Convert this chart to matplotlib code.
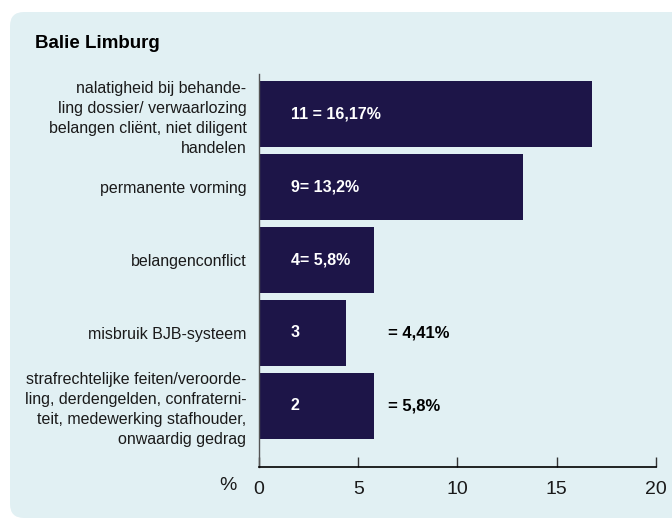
import matplotlib
matplotlib.use("Agg")
import matplotlib.pyplot as plt
from matplotlib.patches import FancyBboxPatch

categories = [
    "nalatigheid bij behande-\nling dossier/ verwaarlozing\nbelangen cliënt, niet diligent\nhandelen",
    "permanente vorming",
    "belangenconflict",
    "misbruik BJB-systeem",
    "strafrechtelijke feiten/veroorde-\nling, derdengelden, confraterni-\nteit, medewerking stafhouder,\nonwaardig gedrag",
]
percentages = [16.8, 13.3, 5.8, 4.4, 5.8]
inner_labels = ["11 = 16,17%", "9= 13,2%", "4= 5,8%", "3", "2"]
outer_labels = ["", "", "", "= 4,41%", "= 5,8%"]
xticks = [0, 5, 10, 15, 20]

bar_color = "#1d1548"
panel_color = "#e1f0f3"
text_color = "#1a1a1a"

plt.rcParams["font.family"] = ["Liberation Sans", "DejaVu Sans"]

fig = plt.figure(figsize=(6.72, 5.27), dpi=100)
fig.patch.set_facecolor("white")

# light panel behind the chart (pixel coordinates)
panel = FancyBboxPatch((10, 9), 720, 506, boxstyle="round,pad=0,rounding_size=14",
                       transform=None, facecolor=panel_color, edgecolor="none", zorder=-5)
fig.patches.append(panel)

fig.text(0.052, 0.917, "Balie Limburg", fontsize=13.5, fontweight="bold",
         color="black", ha="left", va="center")

ax = fig.add_axes([0.3854, 0.1139, 0.5908, 0.7457])
ax.set_facecolor("none")

ypos = list(range(len(categories)))
ax.barh(ypos, percentages, height=0.9, color=bar_color, zorder=2)

for y, lab in zip(ypos, inner_labels):
    ax.text(1.6, y, lab, color="white", fontsize=11.5, fontweight="bold",
            ha="left", va="center", zorder=3)
for y, lab in zip(ypos, outer_labels):
    if lab:
        ax.text(6.5, y, lab, color="black", fontsize=12, fontweight="bold",
                ha="left", va="center", zorder=3)

ax.set_xlim(0, 20)
ax.set_ylim(4.84, -0.55)
ax.set_xticks(xticks)
ax.set_xticklabels([str(t) for t in xticks], fontsize=14, color=text_color)
ax.tick_params(axis="x", direction="in", length=7, width=1, pad=10, color="#333333")
ax.set_yticks(ypos)
ax.set_yticklabels(categories, fontsize=11.5, color=text_color, linespacing=1.42,
                   ha="right")
ax.tick_params(axis="y", length=0, pad=9)

for side in ["top", "right"]:
    ax.spines[side].set_visible(False)
ax.spines["bottom"].set_color("black")
ax.spines["bottom"].set_linewidth(1.2)
ax.spines["left"].set_color("#555555")
ax.spines["left"].set_linewidth(1)

fig.text(219 / 672, 1 - 486 / 527, "%", fontsize=14, color=text_color,
         ha="left", va="center")

fig.savefig("out.png", dpi=100)
